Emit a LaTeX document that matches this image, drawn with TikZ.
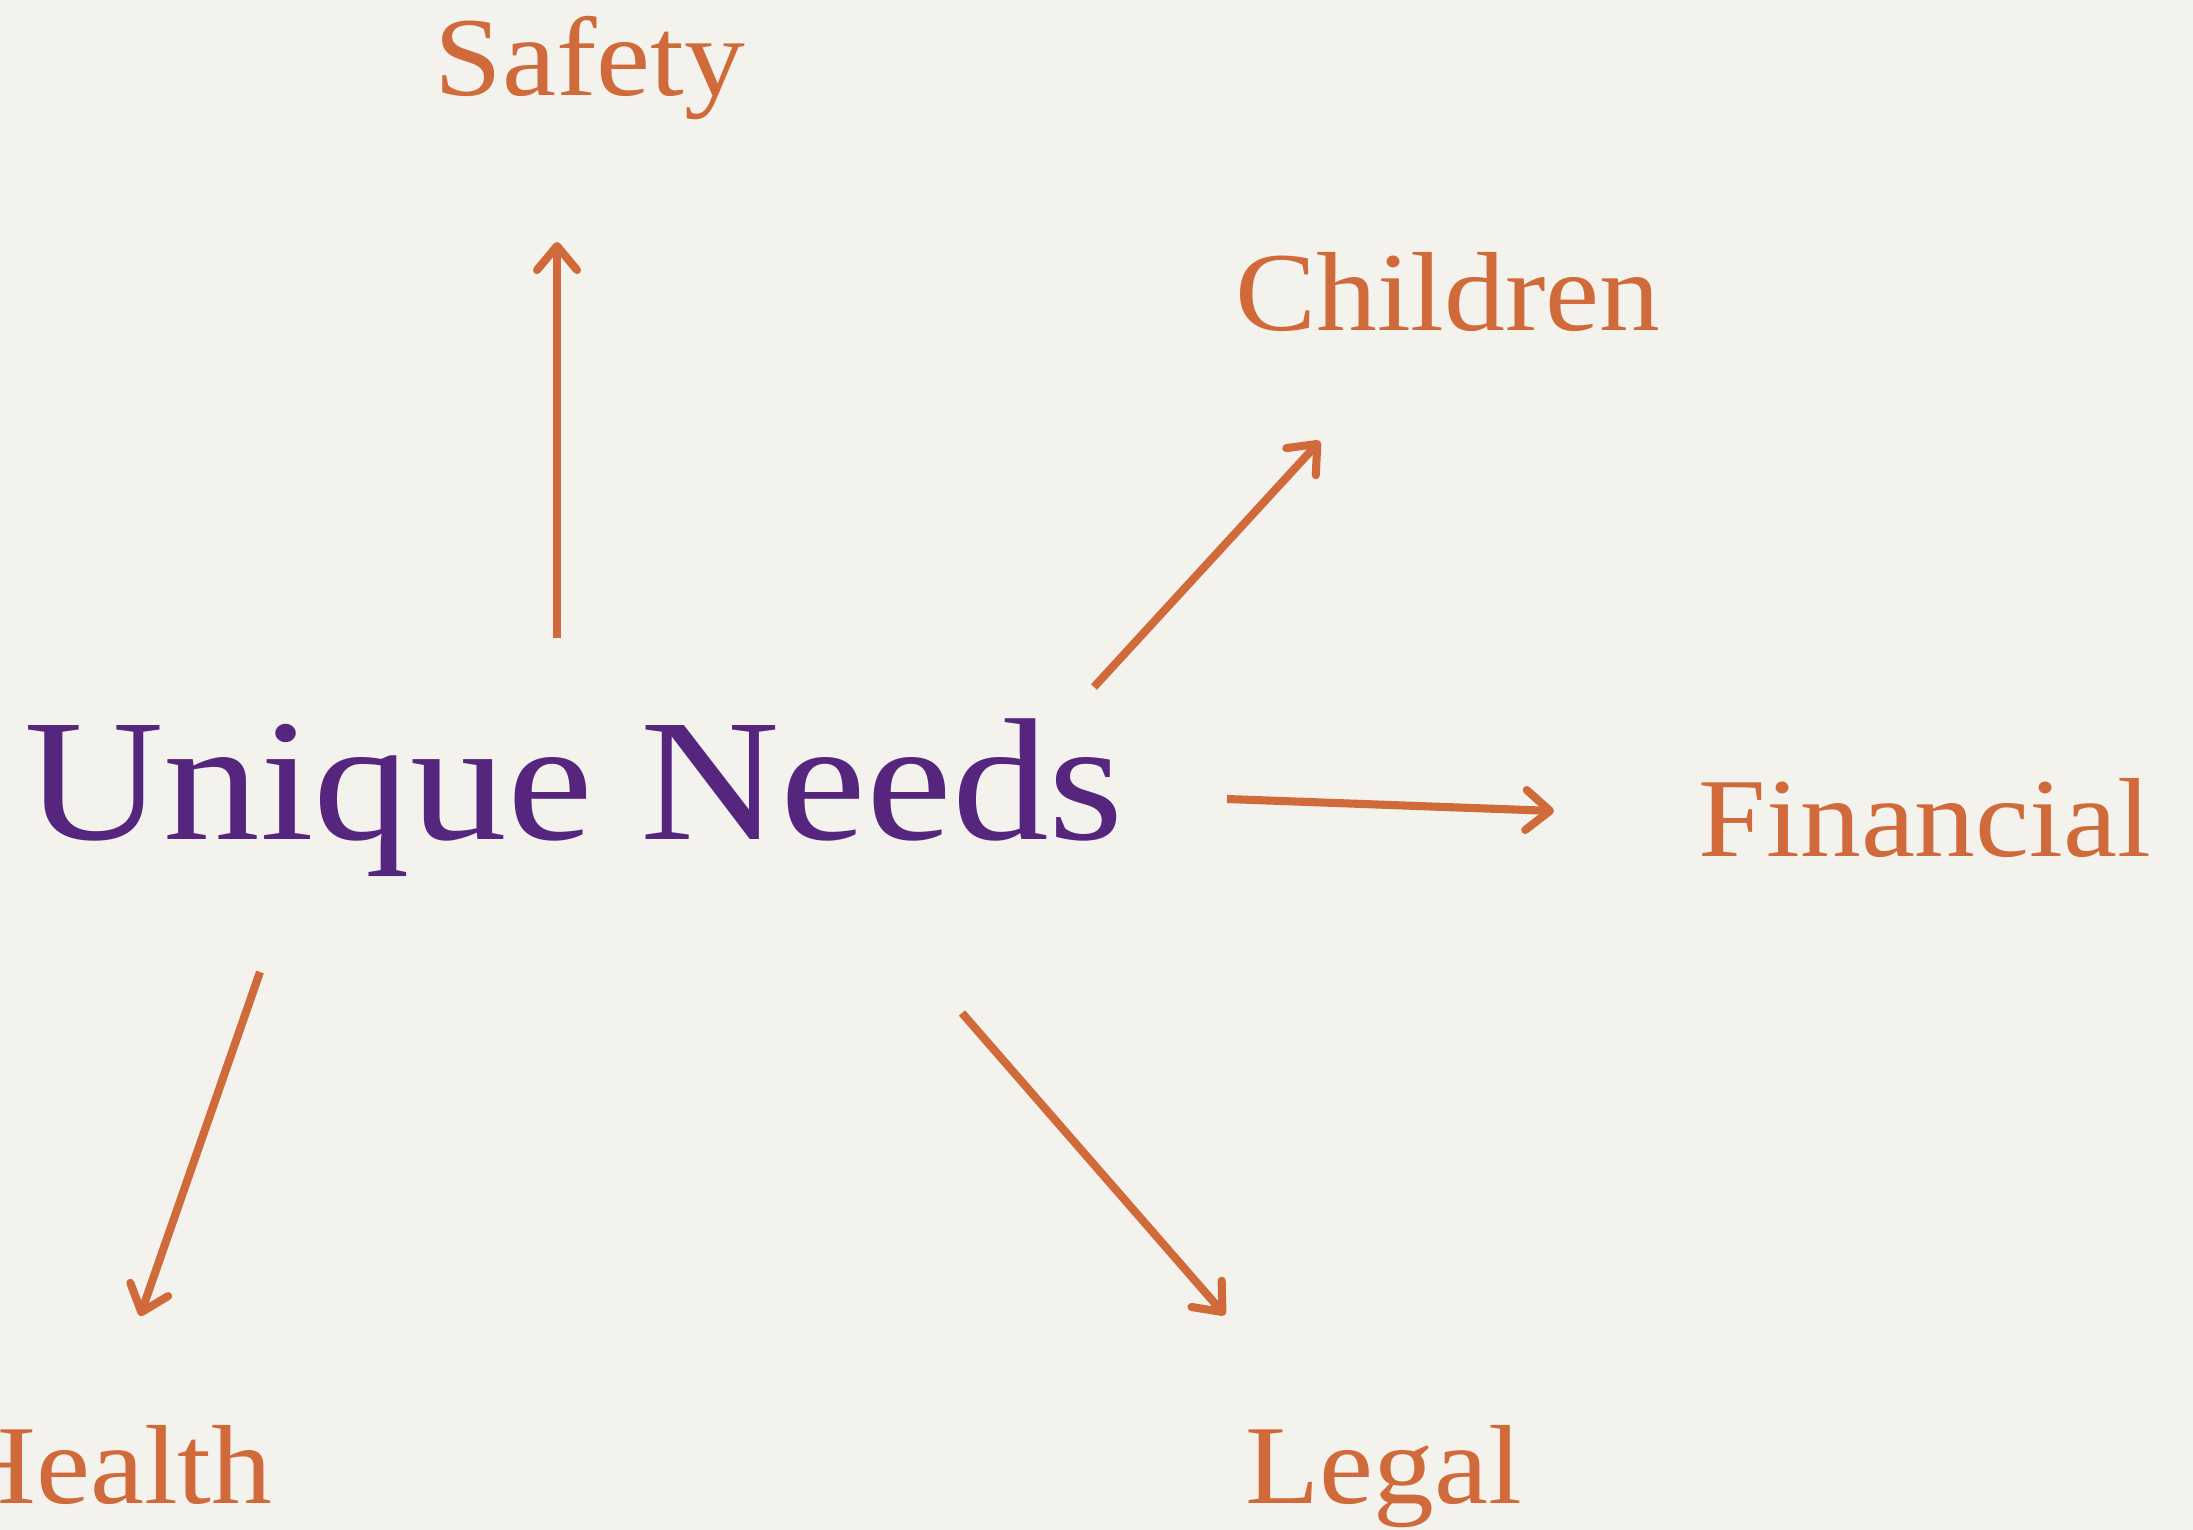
\documentclass[tikz,border=0pt]{standalone}
\usepackage{fontspec}
\setmainfont{Liberation Serif}[FakeStretch=1.08]
\newfontfamily\mainlbl{Liberation Serif}[FakeStretch=1.11]
\usetikzlibrary{arrows.meta}
\definecolor{bgc}{HTML}{F4F2ED}
\definecolor{orng}{HTML}{D06A3A}
\definecolor{purp}{HTML}{56267F}
\begin{document}
\begin{tikzpicture}[x=0.01cm,y=-0.01cm,
  lbl/.style={text=orng,font=\fontsize{32}{36}\selectfont,inner sep=0pt,anchor=base},
  arr/.style={draw=orng,line width=2.3pt,-{Straight Barb[length=0.24cm,width=0.4cm,round]}}]
\fill[bgc] (0,0) rectangle (2193,1530);
\useasboundingbox (0,0) rectangle (2193,1530);
\node[text=purp,font=\mainlbl\fontsize{49.5}{56}\selectfont,inner sep=0pt,anchor=base] (main) at (574,839) {Unique Needs};
\node[lbl] (safety) at (590,95) {Safety};
\node[lbl] (children) at (1448,330) {Children};
\node[lbl] (financial) at (1925,856) {Financial};
\node[lbl,anchor=base east] (health) at (273,1503) {Health};
\node[lbl] (legal) at (1384,1503) {Legal};
\coordinate (s0) at (557,638); \coordinate (s1) at (557,242);
\coordinate (c0) at (1094,687); \coordinate (c1) at (1320,441);
\coordinate (f0) at (1227,799); \coordinate (f1) at (1554,811);
\coordinate (h0) at (260,972); \coordinate (h1) at (140,1316);
\coordinate (l0) at (962,1013); \coordinate (l1) at (1225,1315);
\draw[arr] (s0) -- (s1);
\draw[arr] (c0) -- (c1);
\draw[arr] (f0) -- (f1);
\draw[arr] (h0) -- (h1);
\draw[arr] (l0) -- (l1);
\end{tikzpicture}
\end{document}
